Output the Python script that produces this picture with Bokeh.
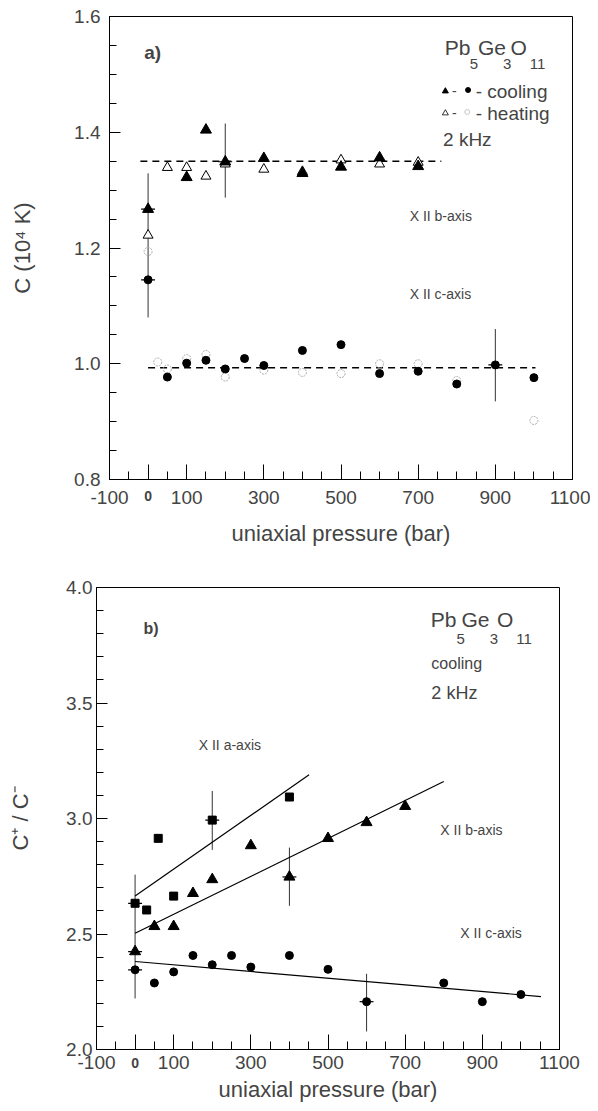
from bokeh.plotting import figure
from bokeh.layouts import column
from bokeh.models import (FixedTicker, Label, Range1d, PrintfTickFormatter, LinearAxis,
                          CustomJSTickFormatter)
from bokeh.embed import file_html
from bokeh.resources import INLINE

FONT = "Liberation Sans"

# ---------------- data: panel a ----------------
x_major = [-100, 100, 300, 500, 700, 900, 1100]
x_minor = list(range(-100, 1101, 50))

a_cool_b_x = [0, 100, 150, 200, 300, 400, 500, 600, 700]
a_cool_b_y = [1.267, 1.322, 1.404, 1.349, 1.355, 1.329, 1.340, 1.356, 1.341]
a_heat_b_x = [0, 50, 100, 150, 200, 300, 400, 500, 600, 700]
a_heat_b_y = [1.222, 1.339, 1.339, 1.324, 1.345, 1.336, 1.332, 1.352, 1.345, 1.348]
a_cool_c_x = [0, 50, 100, 150, 200, 250, 300, 400, 500, 600, 700, 800, 900, 1000]
a_cool_c_y = [1.145, 0.977, 1.001, 1.006, 0.991, 1.009, 0.997, 1.023, 1.033, 0.983, 0.987, 0.965, 0.998, 0.976]
a_heat_c_x = [0, 25, 50, 100, 150, 200, 300, 400, 500, 600, 700, 800, 1000]
a_heat_c_y = [1.194, 1.003, 0.991, 1.009, 1.016, 0.977, 0.989, 0.985, 0.983, 1.000, 1.000, 0.971, 0.902]

a_fit_b_x = [-20, 760]
a_fit_b_y = [1.350, 1.350]
a_fit_c_x = [0, 1004]
a_fit_c_y = [0.993, 0.993]

a_err_x = [0, 200, 900]
a_err_lo = [1.080, 1.287, 0.935]
a_err_hi = [1.329, 1.415, 1.060]
a_herr_x = [0, 0, 200, 900]
a_herr_y = [1.267, 1.145, 1.349, 0.998]

# ---------------- data: panel b ----------------
b_a_x = [0, 30, 60, 100, 200, 400]
b_a_y = [2.633, 2.604, 2.914, 2.664, 2.993, 3.093]
b_b_x = [0, 50, 100, 150, 200, 300, 400, 500, 600, 700]
b_b_y = [2.424, 2.533, 2.533, 2.676, 2.736, 2.883, 2.747, 2.914, 2.983, 3.053]
b_c_x = [0, 50, 100, 150, 200, 250, 300, 400, 500, 600, 800, 900, 1000]
b_c_y = [2.345, 2.288, 2.336, 2.407, 2.367, 2.407, 2.357, 2.407, 2.347, 2.207, 2.288, 2.207, 2.238]

b_fit_a_x = [0, 451]
b_fit_a_y = [2.664, 3.189]
b_fit_b_x = [0, 800]
b_fit_b_y = [2.503, 3.160]
b_fit_c_x = [0, 1052]
b_fit_c_y = [2.381, 2.229]

b_err_x = [0, 200, 400, 600]
b_err_lo = [2.221, 2.864, 2.622, 2.078]
b_err_hi = [2.757, 3.119, 2.874, 2.328]
b_herr_x = [0, 0, 0, 200, 400, 600]
b_herr_y = [2.633, 2.424, 2.345, 2.993, 2.747, 2.207]

HERR = 18  # half width of the horizontal error ticks (bar)


def make_fig(height, left, right, top, bottom, y0, y1, ymajor, yminor, ylabel,
             ylab_standoff, yaxis_standoff, s0, s1, xlab_standoff):
    p = figure(width=590, height=height, x_range=Range1d(-100, 1100), y_range=Range1d(y0, y1),
               output_backend="svg", toolbar_location=None,
               min_border_left=left, min_border_right=right,
               min_border_top=top, min_border_bottom=bottom)
    p.frame_align = False
    p.xgrid.visible = False
    p.ygrid.visible = False
    p.outline_line_color = "black"
    p.outline_line_width = 1
    p.outline_line_alpha = 1
    p.background_fill_color = "white"
    p.border_fill_color = "white"

    # axis drawing the ticks and the bold "0"
    xa = p.xaxis[0]
    xa.ticker = FixedTicker(ticks=sorted(x_major + [0]), minor_ticks=x_minor)
    xa.formatter = CustomJSTickFormatter(code="return tick == 0 ? '0' : '';")
    xa.major_tick_in = 15
    xa.major_tick_out = 0
    xa.minor_tick_in = 8
    xa.minor_tick_out = 0
    xa.major_label_standoff = s0
    xa.major_label_text_font = FONT
    xa.major_label_text_font_size = "14px"
    xa.major_label_text_font_style = "bold"
    xa.axis_line_color = "black"

    # axis drawing the other numbers and the title
    xb = LinearAxis(ticker=FixedTicker(ticks=x_major),
                    formatter=PrintfTickFormatter(format="%d"),
                    major_tick_in=0, major_tick_out=0, minor_tick_in=0, minor_tick_out=0,
                    major_tick_line_color=None, minor_tick_line_color=None,
                    axis_line_color=None,
                    major_label_standoff=s1,
                    major_label_text_font=FONT, major_label_text_font_size="19px",
                    axis_label="uniaxial pressure (bar)",
                    axis_label_standoff=xlab_standoff,
                    axis_label_text_font=FONT, axis_label_text_font_size="22px",
                    axis_label_text_font_style="normal")
    p.add_layout(xb, "below")

    ya = p.yaxis[0]
    ya.ticker = FixedTicker(ticks=ymajor, minor_ticks=yminor)
    ya.formatter = PrintfTickFormatter(format="%.1f")
    ya.major_tick_in = 11
    ya.major_tick_out = 0
    ya.minor_tick_in = 7
    ya.minor_tick_out = 0
    ya.major_label_standoff = ylab_standoff
    ya.axis_label = ylabel
    ya.axis_label_standoff = yaxis_standoff
    ya.axis_label_text_font = FONT
    ya.axis_label_text_font_size = "22px"
    ya.axis_label_text_font_style = "normal"
    ya.major_label_text_font = FONT
    ya.major_label_text_font_size = "19px"
    ya.axis_line_color = "black"
    return p


def txt(p, x, y, s, size, style="normal", baseline="alphabetic"):
    p.add_layout(Label(x=x, y=y, text=s, text_font=FONT, text_font_size=size,
                       text_font_style=style, text_align="left", text_baseline=baseline))


# ---------------- panel a ----------------
p1 = make_fig(570, 109, 18, 16, 91, 0.8, 1.6,
              [0.8, 1.0, 1.2, 1.4, 1.6],
              [0.8 + 0.05 * i for i in range(17)],
              "C (10\u2074 K)", 9, 36, 11, -13, 14)

p1.segment(x0=a_err_x, y0=a_err_lo, x1=a_err_x, y1=a_err_hi, line_color="#333333", line_width=1)
p1.segment(x0=[x - HERR for x in a_herr_x], y0=a_herr_y, x1=[x + HERR for x in a_herr_x],
           y1=a_herr_y, line_color="black", line_width=1.2)
p1.line(a_fit_b_x, a_fit_b_y, line_color="black", line_width=1.5, line_dash="7 5")
p1.line(a_fit_c_x, a_fit_c_y, line_color="black", line_width=1.5, line_dash="7 5")

p1.scatter(a_heat_c_x, a_heat_c_y, marker="circle", size=8, fill_color=None,
           line_color="#aaaaaa", line_width=1, line_dash="2 1")
p1.scatter(a_heat_b_x, a_heat_b_y, marker="triangle", size=10, fill_color="white",
           line_color="black", line_width=1)
p1.scatter(a_cool_b_x, a_cool_b_y, marker="triangle", size=11, fill_color="black", line_color="black")
p1.scatter(a_cool_c_x, a_cool_c_y, marker="circle", size=8, fill_color="black", line_color="black")

txt(p1, -10, 1.538, "a)", "19px", "bold", "middle")
# formula Pb5Ge3O11
txt(p1, 769, 1.547, "Pb", "21px")
txt(p1, 834, 1.518, "5", "15px")
txt(p1, 855, 1.547, "Ge", "21px")
txt(p1, 920, 1.518, "3", "15px")
txt(p1, 939, 1.547, "O", "21px")
txt(p1, 989, 1.518, "11", "15px")
# legend
p1.scatter([770.5], [1.471], marker="triangle", size=6, fill_color="black", line_color="black")
p1.scatter([829.3], [1.473], marker="circle", size=5, fill_color="black", line_color="black")
txt(p1, 788, 1.471, "-", "14px", "normal", "middle")
txt(p1, 849, 1.471, "- cooling", "19px", "normal", "middle")
p1.scatter([770.5], [1.433], marker="triangle", size=6, fill_color="white", line_color="black", line_width=0.8)
p1.scatter([827], [1.435], marker="circle", size=5, fill_color=None, line_color="#bbbbbb", line_width=0.8)
txt(p1, 788, 1.433, "-", "14px", "normal", "middle")
txt(p1, 849, 1.433, "- heating", "19px", "normal", "middle")
txt(p1, 764.5, 1.387, "2 kHz", "19px")
txt(p1, 678, 1.256, "X II b-axis", "14px", "normal", "middle")
txt(p1, 678, 1.120, "X II c-axis", "14px", "normal", "middle")

# ---------------- panel b ----------------
p2 = make_fig(539, 96, 31, 17, 60, 2.0, 4.0,
              [2.0, 2.5, 3.0, 3.5, 4.0],
              [2.0 + 0.1 * i for i in range(21)],
              "C\u207a / C\u207b", 4, 30, 8, -15, 5)

p2.segment(x0=b_err_x, y0=b_err_lo, x1=b_err_x, y1=b_err_hi, line_color="#333333", line_width=1)
p2.segment(x0=[x - HERR for x in b_herr_x], y0=b_herr_y, x1=[x + HERR for x in b_herr_x],
           y1=b_herr_y, line_color="black", line_width=1.2)
p2.line(b_fit_a_x, b_fit_a_y, line_color="black", line_width=1.2)
p2.line(b_fit_b_x, b_fit_b_y, line_color="black", line_width=1.2)
p2.line(b_fit_c_x, b_fit_c_y, line_color="black", line_width=1.2)

p2.scatter(b_a_x, b_a_y, marker="square", size=8, fill_color="black", line_color="black")
p2.scatter(b_b_x, b_b_y, marker="triangle", size=11, fill_color="black", line_color="black")
p2.scatter(b_c_x, b_c_y, marker="circle", size=8, fill_color="black", line_color="black")

txt(p2, 22, 3.822, "b)", "16px", "bold", "middle")
txt(p2, 766, 3.860, "Pb", "21px")
txt(p2, 833, 3.779, "5", "15px")
txt(p2, 846, 3.860, "Ge", "21px")
txt(p2, 919, 3.779, "3", "15px")
txt(p2, 938, 3.860, "O", "21px")
txt(p2, 988, 3.779, "11", "15px")
txt(p2, 767.9, 3.672, "cooling", "16px")
txt(p2, 767.9, 3.543, "2 kHz", "18px")
txt(p2, 165, 3.318, "X II a-axis", "14px", "normal", "middle")
txt(p2, 791, 2.950, "X II b-axis", "14px", "normal", "middle")
txt(p2, 843, 2.504, "X II c-axis", "14px", "normal", "middle")

layout = column(p1, p2, spacing=0)
open("out.html", "w").write(file_html(layout, INLINE))
